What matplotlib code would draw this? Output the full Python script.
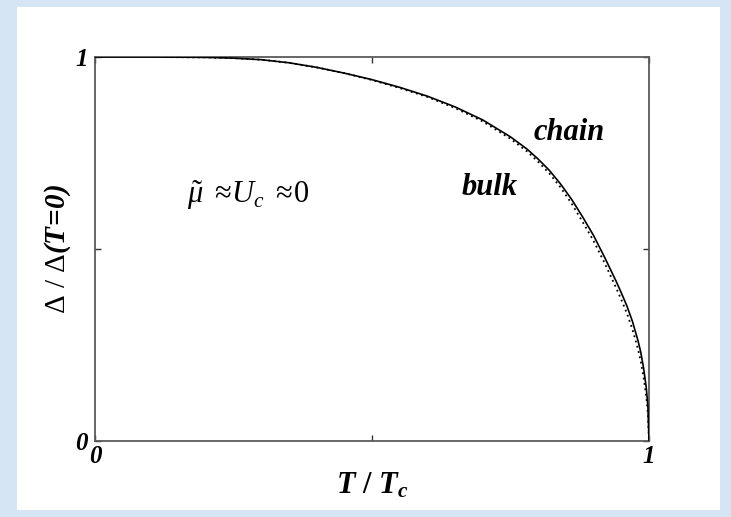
import matplotlib
matplotlib.use("Agg")
import matplotlib.pyplot as plt
from matplotlib.patches import Rectangle

# reduced temperature T / Tc
t_red = [0.0, 0.1, 0.2, 0.25, 0.3, 0.35, 0.4, 0.45, 0.5, 0.55, 0.6, 0.65,
         0.7, 0.75, 0.78, 0.8, 0.82, 0.84, 0.86, 0.88, 0.9, 0.92, 0.94,
         0.95, 0.96, 0.97, 0.98, 0.985, 0.99, 0.995, 0.998, 1.0]

# gap ratio Delta(T) / Delta(0) for the chain (solid) and the bulk (dotted)
gap_chain = [1.0, 1.0, 0.999, 0.997, 0.993, 0.985, 0.973, 0.958, 0.941, 0.921,
             0.898, 0.870, 0.836, 0.792, 0.760, 0.734, 0.705, 0.670, 0.630,
             0.584, 0.535, 0.478, 0.418, 0.386, 0.352, 0.312, 0.262, 0.232,
             0.192, 0.140, 0.090, 0.0]
gap_bulk = [1.0, 1.0, 0.999, 0.997, 0.993, 0.985, 0.973, 0.958, 0.940, 0.919,
            0.896, 0.867, 0.832, 0.787, 0.754, 0.727, 0.697, 0.661, 0.619,
            0.571, 0.521, 0.463, 0.401, 0.368, 0.333, 0.291, 0.240, 0.208,
            0.168, 0.117, 0.072, 0.0]

tick_pos = [0.0, 0.5, 1.0]
tick_lbl = ["0", "", "1"]

SERIF = "Liberation Serif"
plt.rcParams.update({
    "font.family": SERIF,
    "mathtext.fontset": "custom",
    "mathtext.rm": SERIF,
    "mathtext.it": SERIF + ":italic",
    "mathtext.bf": SERIF + ":bold:italic",
})

fig = plt.figure(figsize=(7.31, 5.17), dpi=100)
fig.patch.set_facecolor("#d5e5f4")
# white sheet behind the plot
sheet = Rectangle((17 / 731, 7 / 517), 703 / 731, 503 / 517,
                  transform=fig.transFigure, facecolor="white",
                  edgecolor="none", zorder=-10)
fig.add_artist(sheet)

ax = fig.add_axes([95 / 731, 76 / 517, 554 / 731, 384 / 517])
ax.set_zorder(1)
ax.set_facecolor("white")

ax.plot(t_red, gap_chain, color="black", lw=1.2, zorder=3)
ax.plot(t_red, gap_bulk, color="black", lw=1.3, ls=(0, (1, 2.0)), zorder=2)

ax.set_xlim(0, 1)
ax.set_ylim(0, 1)
ax.set_xticks(tick_pos)
ax.set_xticklabels(tick_lbl)
ax.set_yticks(tick_pos)
ax.set_yticklabels(tick_lbl)
ax.tick_params(direction="in", length=4, width=1.0, top=True, right=True,
               color="#333333")
ax.tick_params(axis="x", pad=3)
ax.tick_params(axis="y", pad=5)
for lab in ax.get_xticklabels() + ax.get_yticklabels():
    lab.set_fontsize(18)
    lab.set_fontweight("bold")
    lab.set_fontstyle("italic")

for side in ("top", "right", "left", "bottom"):
    ax.spines[side].set_color("#5a5a5a")
    ax.spines[side].set_linewidth(1.3)

ax.set_xlabel(r"$\mathbf{T}$ / $\mathbf{T}_{\mathbf{c}}$", fontsize=22,
              fontweight="bold", labelpad=2)
ax.set_ylabel(r"$\Delta$ / $\Delta$$\mathbf{(T\!=\!0)}$", fontsize=21,
              labelpad=2)

ax.text(0.791, 0.784, "chain", fontsize=22, fontweight="bold",
        fontstyle="italic", ha="left", va="baseline")
ax.text(0.662, 0.641, "bulk", fontsize=22, fontweight="bold",
        fontstyle="italic", ha="left", va="baseline")
ax.text(0.166, 0.620, r"$\tilde{\mu}\ \approx\!U_c\ \approx\!\mathrm{0}$",
        fontsize=22, ha="left", va="baseline")

fig.savefig("out.png", dpi=100, facecolor=fig.get_facecolor())
